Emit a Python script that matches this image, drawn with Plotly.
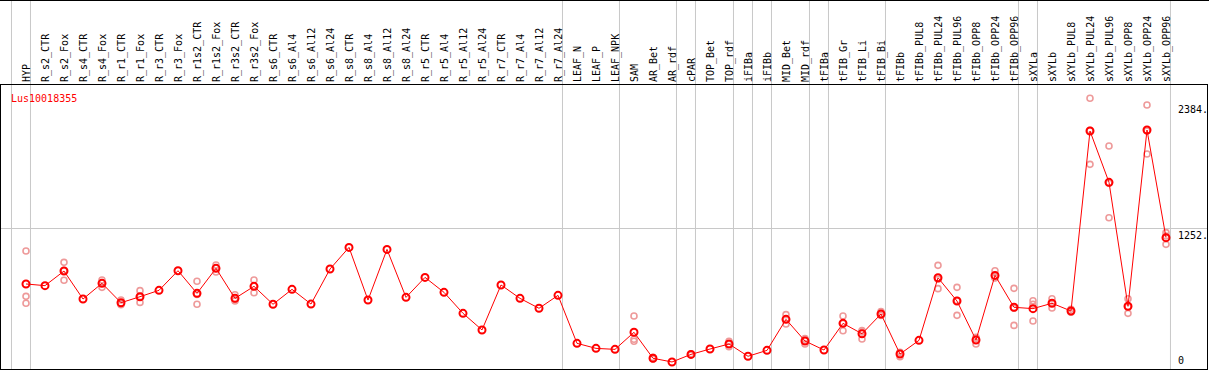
import plotly.graph_objects as go

gene = "Lus10018355"

categories = [
    "HYP", "R_s2_CTR", "R_s2_Fox", "R_s4_CTR", "R_s4_Fox", "R_r1_CTR", "R_r1_Fox",
    "R_r3_CTR", "R_r3_Fox", "R_r1s2_CTR", "R_r1s2_Fox", "R_r3s2_CTR", "R_r3s2_Fox",
    "R_s6_CTR", "R_s6_Al4", "R_s6_Al12", "R_s6_Al24", "R_s8_CTR", "R_s8_Al4",
    "R_s8_Al12", "R_s8_Al24", "R_r5_CTR", "R_r5_Al4", "R_r5_Al12", "R_r5_Al24",
    "R_r7_CTR", "R_r7_Al4", "R_r7_Al12", "R_r7_Al24", "LEAF_N", "LEAF_P", "LEAF_NPK",
    "SAM", "AR_Bet", "AR_rdf", "cPAR", "TOP_Bet", "TOP_rdf", "iFIBa", "iFIBb",
    "MID_Bet", "MID_rdf", "tFIBa", "tFIB_Gr", "tFIB_Li", "tFIB_Bi", "tFIBb",
    "tFIBb_PUL8", "tFIBb_PUL24", "tFIBb_PUL96", "tFIBb_OPP8", "tFIBb_OPP24",
    "tFIBb_OPP96", "sXYLa", "sXYLb", "sXYLb_PUL8", "sXYLb_PUL24", "sXYLb_PUL96",
    "sXYLb_OPP8", "sXYLb_OPP24", "sXYLb_OPP96",
]

means = [
    753, 738, 869, 618, 759, 585, 639, 696, 872, 669, 893, 624, 732,
    571, 705, 573, 887, 1081, 609, 1063, 633, 812, 678, 490, 341,
    744, 624, 535, 651, 221, 176, 167,
    320, 87, 54, 122, 170, 215, 105, 158, 436, 242, 161, 400, 307, 484, 125,
    248, 809, 600, 251, 830, 544, 532, 580, 511, 2124, 1664, 553, 2133, 1168,
]

N = None
rep_a = [
    1048, N, 947, N, 789, 609, 693, N, N, 777, 923, 657, 789,
    N, N, N, N, N, N, N, N, N, N, N, N,
    N, N, N, N, N, N, N,
    466, 95, N, 127, N, 240, N, N, 478, 263, N, 466, 325, 505, 101,
    N, 920, 723, 215, 872, 714, 603, 621, 526, 2417, 1989, 621, 2357, 1213,
]
rep_b = [
    642, N, 786, N, 723, 567, 588, N, N, 571, 860, 600, 675,
    N, N, N, N, N, N, N, N, N, N, N, N,
    N, N, N, N, N, N, N,
    257, 80, N, 117, N, 191, N, N, 394, 215, N, 334, 260, 470, 140,
    N, 711, 472, 275, 812, 382, 421, 538, 500, 1825, 1347, 490, 1918, 1108,
]
rep_c = [
    580, N, 874, N, 765, 580, 636, N, N, 659, 896, 615, 732,
    N, N, N, N, N, N, N, N, N, N, N, N,
    N, N, N, N, N, N, N,
    240, 86, N, N, N, 214, N, N, 436, 248, N, 400, 336, 477, 134,
    N, 796, 605, 263, 806, 536, 572, 581, 507, 2130, 1656, 548, 2124, 1183,
]

group_last = [-1, 0, 28, 31, 34, 35, 37, 38, 39, 41, 42, 45, 52, 53, 60]
grid_values = [1252]
value_labels = [2384, 1252, 0]

RED = "#FF0000"
PINK = "#EE9A9A"
GRID = "#C8C8C8"
FONT = "DejaVu Sans Mono"

W, H = 1209, 370
ML, MR, MT, MB = 1, 2, 85, 1
PW = W - ML - MR
PH = H - MT - MB

idx = list(range(len(categories)))

rx, ry = [], []
for reps in (rep_a, rep_b, rep_c):
    for i, v in enumerate(reps):
        if v is not None:
            rx.append(i)
            ry.append(v)

fig = go.Figure()
fig.add_trace(go.Scatter(
    x=rx, y=ry, mode="markers",
    marker=dict(symbol="circle-open", size=6, color=PINK, line=dict(width=1.6, color=PINK)),
    hoverinfo="skip", showlegend=False,
))
fig.add_trace(go.Scatter(
    x=idx, y=means, mode="lines+markers",
    line=dict(color=RED, width=1),
    marker=dict(symbol="circle-open", size=7, color=RED, line=dict(width=2, color=RED)),
    showlegend=False,
))

shapes = []
for g in group_last:
    xb = g + 0.235
    shapes.append(dict(type="line", xref="x", yref="paper", x0=xb, x1=xb,
                       y0=0, y1=1 + MT / PH, line=dict(color=GRID, width=1), layer="below"))
shapes.append(dict(type="line", xref="paper", yref="paper", x0=-ML / PW, x1=1 + MR / PW,
                   y0=1 + (MT - 0.5) / PH, y1=1 + (MT - 0.5) / PH,
                   line=dict(color="black", width=1)))
fig.update_layout(shapes=shapes)

annotations = [dict(text=gene, xref="paper", yref="paper", x=8 / PW, y=(H - MB - 98) / PH,
                    xanchor="left", yanchor="middle", showarrow=False,
                    font=dict(family=FONT, size=10, color=RED))]
for v in value_labels:
    annotations.append(dict(
        text=(f"{v}." if v != 0 else "0"), xref="paper", yref="y", x=(1176 - ML) / PW, y=v,
        xanchor="left", yanchor=("top" if v != 0 else "bottom"), showarrow=False,
        font=dict(family=FONT, size=10, color="black")))
fig.update_layout(annotations=annotations)

x0 = (ML - 26) / 19
x1 = (W - MR - 26) / 19
px_per_unit = (368 - 228.3) / 1252
y_bottom = -(369 - 368) / px_per_unit
y_top = (368 - MT) / px_per_unit

fig.update_layout(
    width=W, height=H, autosize=False,
    margin=dict(l=ML, r=MR, t=MT, b=MB, pad=0, autoexpand=False),
    paper_bgcolor="white", plot_bgcolor="white",
    font=dict(family=FONT, size=10, color="black"),
    xaxis=dict(range=[x0, x1], side="top", tickmode="array", tickvals=idx, ticktext=categories,
               tickangle=-90, ticks="", showgrid=False, zeroline=False, automargin=False,
               ticklabelshift=1,
               showline=True, mirror=True, linecolor="black", linewidth=1,
               tickfont=dict(family=FONT, size=10, color="black"), fixedrange=True),
    yaxis=dict(range=[y_bottom, y_top], tickmode="array", tickvals=grid_values,
               showticklabels=False, ticks="", showgrid=True, gridcolor=GRID, gridwidth=1,
               zeroline=False, showline=True, mirror=True, linecolor="black", linewidth=1,
               automargin=False, fixedrange=True),
)

fig.write_html(
    "out.html",
    config={"displayModeBar": False},
    post_script="document.body.style.margin='0';document.body.style.padding='0';"
                "document.body.style.overflow='hidden';",
)
